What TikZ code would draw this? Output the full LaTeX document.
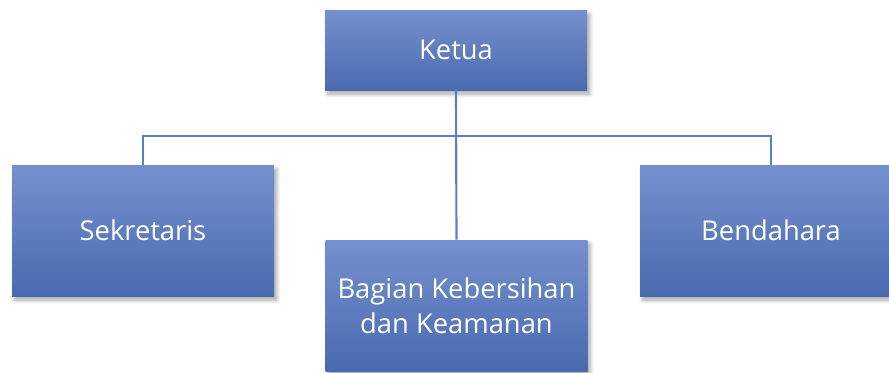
\documentclass[tikz,border=0pt]{standalone}
\usepackage{fontspec}
\setmainfont{Open Sans}
\usetikzlibrary{shadows.blur}
\definecolor{boxtop}{HTML}{7590CE}
\definecolor{boxbot}{HTML}{4A6AB0}
\definecolor{linec}{HTML}{5A7EC8}
\tikzset{
  orgbox/.style={rectangle, draw=none, top color=boxtop, bottom color=boxbot,
    text=white, font=\fontsize{20.5}{26}\selectfont, align=center,
    minimum width=196.5pt, inner sep=0pt,
    blur shadow={shadow xshift=2pt, shadow yshift=-3pt, shadow opacity=35, shadow blur steps=6, shadow blur radius=3pt}},
  conn/.style={draw=linec, line width=1.6pt}
}
\begin{document}
\begin{tikzpicture}[x=0.75pt,y=-0.75pt]
\useasboundingbox (0,0) rectangle (889,372);
\clip (0,0) rectangle (889,372);
\coordinate (hb) at (456,136);
\node[orgbox, minimum height=60pt] (ketua) at (456,50) {Ketua};
\node[orgbox, minimum height=98.25pt] (sek) at (143,230.5) {Sekretaris};
\node[orgbox, minimum height=98.25pt] (bag) at (456.5,305.5) {Bagian Kebersihan\\dan Keamanan};
\node[orgbox, minimum height=98.25pt] (ben) at (771,230.5) {Bendahara};
\draw[conn] (ketua.south) -- (bag.north);
\draw[conn] (sek.north) |- (hb) -| (ben.north);
\end{tikzpicture}
\end{document}
